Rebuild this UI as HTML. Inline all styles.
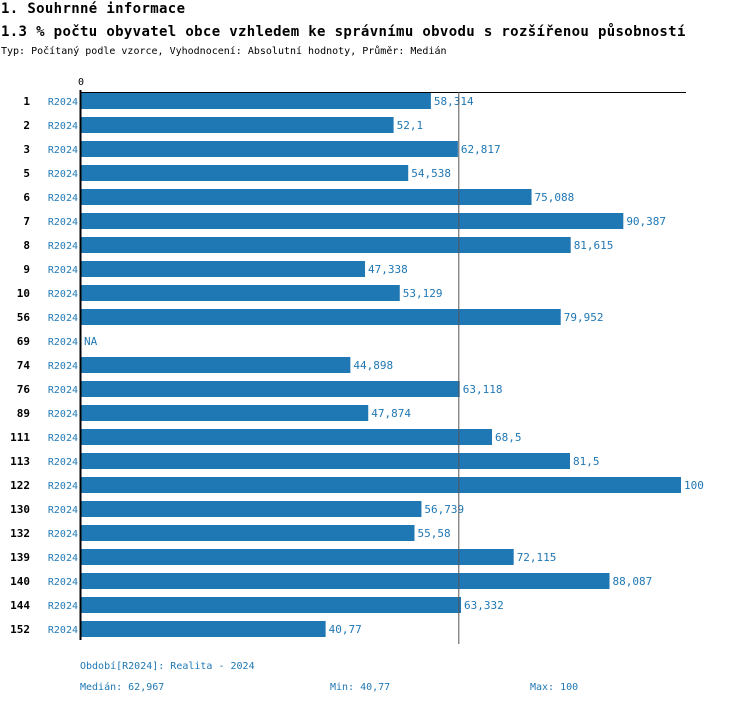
<!DOCTYPE html>
<html><head><meta charset="utf-8"><style>
body{margin:0;background:#fff;width:750px;height:704px;overflow:hidden}
svg text{font-family:"DejaVu Sans Mono","Liberation Mono",monospace}
</style></head><body>
<svg id="c" width="750" height="704">
<text x="1" y="13" font-size="14" font-weight="bold" letter-spacing="0.35" fill="#000">1. Souhrnné informace</text>
<text x="1" y="36" font-size="14" font-weight="bold" letter-spacing="0.35" fill="#000">1.3 % počtu obyvatel obce vzhledem ke správnímu obvodu s rozšířenou působností</text>
<text x="1" y="54" font-size="10" fill="#000">Typ: Počítaný podle vzorce, Vyhodnocení: Absolutní hodnoty, Průměr: Medián</text>
<text x="81" y="85" font-size="10" text-anchor="middle" fill="#000">0</text>
<line x1="80" y1="92.5" x2="686" y2="92.5" stroke="#000" stroke-width="1"/>
<g id="bars"></g>
<line x1="80.5" y1="90" x2="80.5" y2="640" stroke="#000" stroke-width="2"/>
<text x="80" y="669" font-size="10" fill="#1f77b4">Období[R2024]: Realita - 2024</text>
<text x="80" y="690" font-size="10" fill="#1f77b4">Medián: 62,967</text>
<text x="330" y="690" font-size="10" fill="#1f77b4">Min: 40,77</text>
<text x="530" y="690" font-size="10" fill="#1f77b4">Max: 100</text>
</svg>
<script>
const categories=["1","2","3","5","6","7","8","9","10","56","69","74","76","89","111","113","122","130","132","139","140","144","152"];
const values=[58.314,52.1,62.817,54.538,75.088,90.387,81.615,47.338,53.129,79.952,null,44.898,63.118,47.874,68.5,81.5,100,56.739,55.58,72.115,88.087,63.332,40.77];
const labels=["58,314","52,1","62,817","54,538","75,088","90,387","81,615","47,338","53,129","79,952","NA","44,898","63,118","47,874","68,5","81,5","100","56,739","55,58","72,115","88,087","63,332","40,77"];
const median=62.967;
const NS="http://www.w3.org/2000/svg";
const x=v=>81+v*6;
const y=i=>101+i*24;
const g=document.getElementById('bars');
function mk(t,a){const e=document.createElementNS(NS,t);for(const k in a)e.setAttribute(k,a[k]);g.appendChild(e);return e;}
categories.forEach((c,i)=>{
  const t1=mk('text',{x:30,y:y(i)+4,'font-size':11,'font-weight':'bold','text-anchor':'end',fill:'#000'});t1.textContent=c;
  
  
  const t2=mk('text',{x:78,y:y(i)+4,'font-size':10,'text-anchor':'end',fill:'#1f77b4'});t2.textContent="R2024";
  
  
  const v=values[i];
  if(v!==null){
    const r=mk('rect',{x:x(0),y:y(i)-8,width:x(v)-x(0),height:16,fill:'#1f77b4'});
    
    
  }
  const t3=mk('text',{x:(v===null?x(0):x(v))+3,y:y(i)+4,'font-size':11,fill:'#1f77b4'});t3.textContent=labels[i];
  
  
});
const ml=mk('line',{x1:x(median),y1:92,x2:x(median),y2:644,stroke:'#555','stroke-width':1});


</script>
</body></html>
